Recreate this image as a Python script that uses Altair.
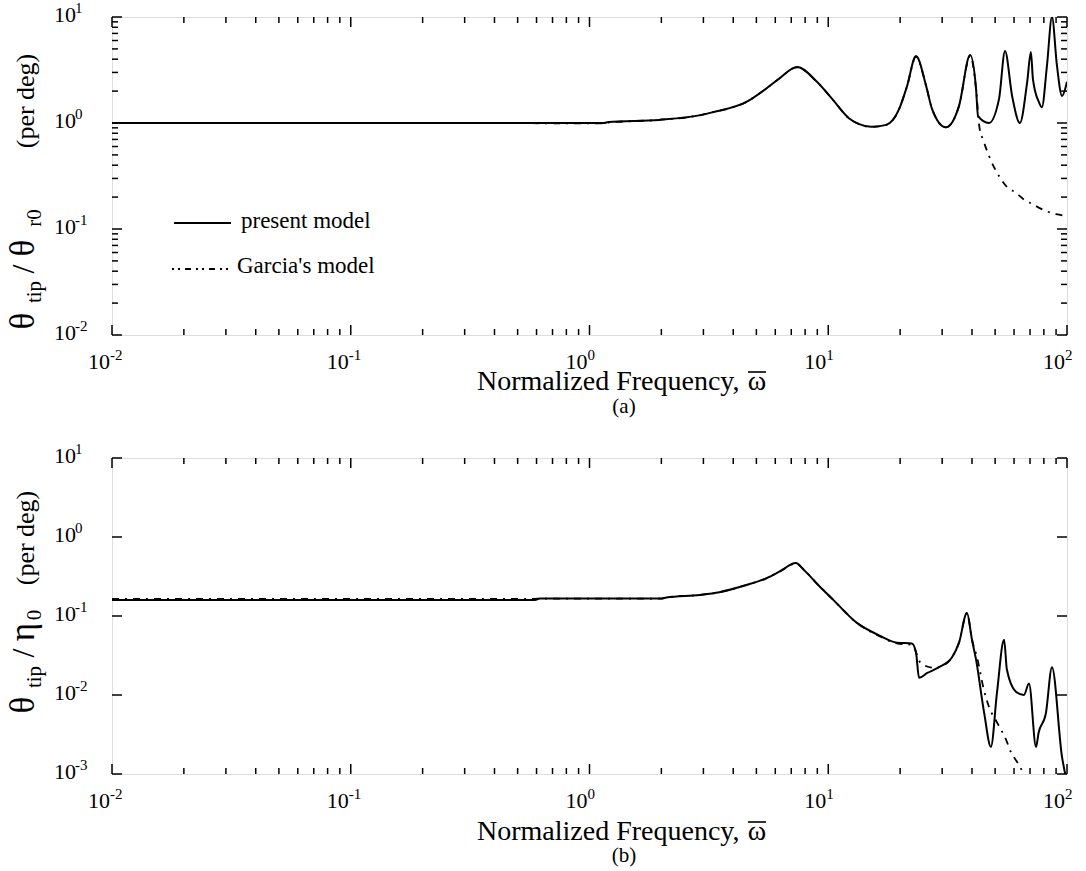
import altair as alt
import pandas as pd

SERIF = "Liberation Serif"

# ---------------- Panel (a): theta_tip / theta_r0 ----------------
a_present_freq = [0.01, 0.3, 1.15, 1.2, 1.95, 2.88, 3.26, 4.52, 5.48, 6.2, 7.4, 8.9, 10.4, 12.2,
                  13.4, 15.1, 17.5, 19.8, 21.4, 23.3, 25.7, 27.2, 31.1, 35.3, 39.3, 41.6, 42.4,
                  47.1, 51.9, 55.0, 58.9, 63.5, 68.1, 70.6, 72.0, 76.3, 78.5, 82.4, 86.5, 90.8,
                  95.3, 100.0]
a_present_amp = [1.0, 1.0, 1.0, 1.02, 1.07, 1.18, 1.26, 1.57, 2.1, 2.6, 3.38, 2.49, 1.68, 1.11,
                 0.98, 0.92, 0.96, 1.35, 2.24, 4.29, 2.24, 1.36, 0.91, 1.45, 4.37, 2.09, 1.16,
                 1.0, 1.68, 4.78, 1.8, 1.0, 2.43, 4.67, 2.6, 1.57, 1.41, 3.45, 10.0, 3.45,
                 1.8, 2.45]
a_garcia_freq = [0.01, 0.3, 1.15, 1.2, 1.95, 2.88, 3.26, 4.52, 5.48, 6.2, 7.4, 8.9, 10.4, 12.2,
                 13.4, 15.1, 17.5, 19.8, 21.4, 23.3, 25.7, 27.2, 31.1, 35.3, 39.3, 41.6, 43.0,
                 44.5, 47.1, 51.9, 56.0, 61.1, 66.0, 71.5, 81.5, 90.0, 100.0]
a_garcia_amp = [1.0, 1.0, 0.99, 1.01, 1.07, 1.18, 1.26, 1.57, 2.1, 2.6, 3.35, 2.49, 1.68, 1.11,
                0.98, 0.92, 0.96, 1.35, 2.24, 4.2, 2.24, 1.36, 0.91, 1.45, 4.3, 2.09, 0.9,
                0.7, 0.49, 0.316, 0.25, 0.22, 0.19, 0.172, 0.148, 0.138, 0.133]

# ---------------- Panel (b): theta_tip / eta_0 ----------------
b_present_freq = [0.01, 0.59, 0.62, 2.0, 2.1, 2.9, 3.5, 4.5, 5.5, 6.3, 7.3, 8.0, 9.1, 10.5,
                  13.1, 16.3, 19.4, 22.4, 23.3, 24.0, 26.0, 29.1, 33.0, 35.3, 38.1, 40.0, 41.6,
                  45.0, 48.0, 50.9, 54.5, 56.0, 61.1, 66.0, 69.3, 74.2, 76.0, 81.6, 86.5, 95.3,
                  99.0]
b_present_amp = [0.16, 0.16, 0.166, 0.166, 0.172, 0.185, 0.2, 0.245, 0.30, 0.37, 0.47, 0.37,
                 0.245, 0.16, 0.083, 0.057, 0.046, 0.045, 0.035, 0.0165, 0.019, 0.0225, 0.03,
                 0.046, 0.109, 0.05, 0.028, 0.0059, 0.0022, 0.0107, 0.05, 0.021, 0.011, 0.010,
                 0.014, 0.0022, 0.0033, 0.0059, 0.0225, 0.00165, 0.0009]
b_garcia_freq = [0.01, 0.59, 0.62, 2.0, 2.1, 2.9, 3.5, 4.5, 5.5, 6.3, 7.3, 8.0, 9.1, 10.5,
                 13.1, 16.3, 19.4, 22.4, 24.5, 28.0, 29.1, 33.0, 35.3, 38.1, 40.0, 42.0, 44.9,
                 47.1, 50.9, 55.6, 58.2, 62.0, 66.0]
b_garcia_amp = [0.165, 0.165, 0.166, 0.166, 0.172, 0.185, 0.2, 0.245, 0.30, 0.37, 0.46, 0.37,
                0.245, 0.16, 0.083, 0.056, 0.045, 0.043, 0.025, 0.022, 0.0225, 0.03, 0.046,
                0.109, 0.05, 0.03, 0.0115, 0.0071, 0.0045, 0.0027, 0.0019, 0.0014, 0.001]

# ---------------- Tick values / labels ----------------
x_major = [0.01, 0.1, 1.0, 10.0, 100.0]
x_exps = ["-2", "-1", "0", "1", "2"]
x_minor = [m * 10.0 ** e for e in range(-2, 2) for m in range(2, 10)]

a_y_major = [0.01, 0.1, 1.0, 10.0]
a_y_exps = ["-2", "-1", "0", "1"]
a_y_minor = [m * 10.0 ** e for e in range(-2, 1) for m in range(2, 10)]

b_y_major = [0.001, 0.01, 0.1, 1.0, 10.0]
b_y_exps = ["-3", "-2", "-1", "0", "1"]

W = 955


def const_text(text, x, y, size, angle=None, align="center", baseline="alphabetic"):
    kw = dict(text=text, font=SERIF, fontSize=size, color="black", align=align, baseline=baseline)
    if angle is not None:
        kw["angle"] = angle
    return alt.Chart(alt.Data(values=[{}])).mark_text(**kw).encode(
        x=alt.value(x), y=alt.value(y))


def panel(pf, pa, gf, ga, ydom, y_major, y_exps, y_minor, H, ytitle, xtitle_y, sub_text, sub_y,
          legend=False):
    xs = alt.Scale(type="log", domain=[0.01, 100])
    ys = alt.Scale(type="log", domain=ydom)
    X = lambda f: alt.X(f, scale=xs, axis=None)
    Y = lambda f: alt.Y(f, scale=ys, axis=None)

    pres = pd.DataFrame({"f": pf, "a": pa})
    garc = pd.DataFrame({"f": gf, "a": ga})
    layers = []
    layers.append(alt.Chart(pres).mark_line(color="black", strokeWidth=2, clip=True,
                                            interpolate="monotone")
                  .encode(x=X("f:Q"), y=Y("a:Q")))
    layers.append(alt.Chart(garc).mark_line(color="black", strokeWidth=1.8, clip=True,
                                            interpolate="monotone", strokeDash=[7, 6, 2, 6])
                  .encode(x=X("f:Q"), y=Y("a:Q")))

    xmaj = pd.DataFrame({"v": x_major, "e": x_exps})
    xmin = pd.DataFrame({"v": x_minor})
    for df, ln in ((xmaj, 10), (xmin, 6)):
        layers.append(alt.Chart(df).mark_rule(color="black", strokeWidth=1.5)
                      .encode(x=X("v:Q"), y=alt.value(H), y2=alt.value(H - ln)))
        layers.append(alt.Chart(df).mark_rule(color="black", strokeWidth=1.5)
                      .encode(x=X("v:Q"), y=alt.value(0), y2=alt.value(ln)))

    ymaj = pd.DataFrame({"v": y_major, "e": y_exps})
    ysets = [(ymaj, 10)]
    if y_minor:
        ysets.append((pd.DataFrame({"v": y_minor}), 6))
    for df, ln in ysets:
        layers.append(alt.Chart(df).mark_rule(color="black", strokeWidth=1.5)
                      .encode(y=Y("v:Q"), x=alt.value(0), x2=alt.value(ln)))
        layers.append(alt.Chart(df).mark_rule(color="black", strokeWidth=1.5)
                      .encode(y=Y("v:Q"), x=alt.value(W), x2=alt.value(W - ln)))

    # x tick labels  10^e
    layers.append(alt.Chart(xmaj).mark_text(text="10", font=SERIF, fontSize=22, align="right",
                                            baseline="alphabetic", dx=-2, color="black")
                  .encode(x=X("v:Q"), y=alt.value(H + 34)))
    layers.append(alt.Chart(xmaj).mark_text(font=SERIF, fontSize=15, align="left",
                                            baseline="alphabetic", dx=-2, color="black")
                  .encode(x=X("v:Q"), y=alt.value(H + 25), text="e:N"))
    # y tick labels
    layers.append(alt.Chart(ymaj).mark_text(text="10", font=SERIF, fontSize=22, align="left",
                                            baseline="alphabetic", dy=5, color="black")
                  .encode(y=Y("v:Q"), x=alt.value(-58)))
    layers.append(alt.Chart(ymaj).mark_text(font=SERIF, fontSize=15, align="left",
                                            baseline="alphabetic", dy=-4, color="black")
                  .encode(y=Y("v:Q"), x=alt.value(-37), text="e:N"))

    # x title (omega with an overbar) and panel tag
    layers.append(const_text("Normalized Frequency,", 365, xtitle_y, 28, align="left"))
    layers.append(const_text("\u03c9", 645, xtitle_y, 28))
    layers.append(alt.Chart(alt.Data(values=[{}])).mark_rule(color="black", strokeWidth=1.6)
                  .encode(x=alt.value(636), x2=alt.value(654),
                          y=alt.value(xtitle_y - 18)))
    layers.append(const_text(sub_text, 512, sub_y, 21))

    # y title pieces (rotated)
    for txt, yc, size, xb in ytitle:
        layers.append(const_text(txt, xb, yc, size, angle=270))

    if legend:
        layers.append(alt.Chart(alt.Data(values=[{}])).mark_rule(color="black", strokeWidth=1.8)
                      .encode(x=alt.value(62), x2=alt.value(119), y=alt.value(206)))
        layers.append(alt.Chart(alt.Data(values=[{}]))
                      .mark_rule(color="black", strokeWidth=1.8, strokeDash=[2, 4, 2, 5, 6, 5])
                      .encode(x=alt.value(60), x2=alt.value(119), y=alt.value(252)))
        layers.append(const_text("present model", 129, 211, 23, align="left"))
        layers.append(const_text("Garcia's model", 125, 256, 23, align="left"))

    return alt.layer(*layers).properties(width=W, height=H)


MAIN = -78
SUB = -71
a_title = [("\u03b8", 304, 35, MAIN), ("tip", 275, 21, SUB), ("/", 252, 32, MAIN),
           ("\u03b8", 231, 35, MAIN), ("r0", 201, 21, SUB), ("(per deg)", 84, 26, MAIN)]
b_title = [("\u03b8", 247, 35, MAIN), ("tip", 219, 21, SUB), ("/", 195, 32, MAIN),
           ("\u03b7", 174, 35, MAIN), ("0", 157, 21, SUB), ("(per deg)", 80, 26, MAIN)]

top = panel(a_present_freq, a_present_amp, a_garcia_freq, a_garcia_amp, [0.01, 10],
            a_y_major, a_y_exps, a_y_minor, 318, a_title, 373, "(a)", 396, legend=True)
bottom = panel(b_present_freq, b_present_amp, b_garcia_freq, b_garcia_amp, [0.001, 10],
               b_y_major, b_y_exps, None, 316, b_title, 382, "(b)", 404)

chart = alt.vconcat(top, bottom, spacing=23).properties(
    padding={"left": 5, "top": 0, "right": 0, "bottom": 0}
).configure_view(stroke="black", strokeWidth=2).configure(background="white")

chart.save("out.html", embed_options={"renderer": "svg", "actions": False})
